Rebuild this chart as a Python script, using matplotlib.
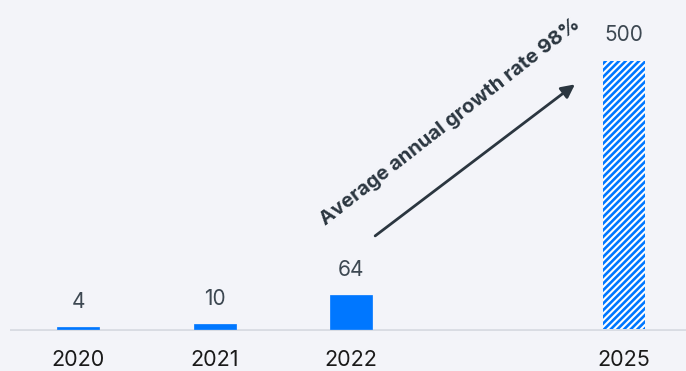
import matplotlib
matplotlib.use("Agg")
import matplotlib.pyplot as plt

years = ["2020", "2021", "2022", "2025"]
positions = [0, 1, 2, 4]
values = [4, 10, 64, 500]
hatched = [False, False, False, True]
annotation_text = "Average annual growth rate 98%"

BG = "#f3f4f9"
BLUE = "#0077ff"
DARK = "#2b3640"

plt.rcParams['font.family'] = ['Inter', 'DejaVu Sans']
plt.rcParams['hatch.linewidth'] = 1.9
plt.rcParams['hatch.color'] = BLUE

fig = plt.figure(figsize=(6.86, 3.71), dpi=100, facecolor=BG)
ax = fig.add_axes([10/686, 40/371, 676/686, 331/371])
ax.set_facecolor(BG)

for p, v, h in zip(positions, values, hatched):
    if h:
        ax.bar(p, v, width=0.31, color="white", edgecolor=BLUE, hatch="/////",
               linewidth=0, zorder=3)
    else:
        ax.bar(p, v, width=0.31, color=BLUE, edgecolor=BLUE, linewidth=0.5, zorder=3)
    ax.annotate(str(v), (p, v), xytext=(0, 11), textcoords="offset points",
                ha="center", va="bottom", fontsize=15, color="#3d4852")

ax.set_xlim(-0.5, 4.454)
ax.set_ylim(-3, 613)
ax.set_xticks(positions)
ax.set_xticklabels(years, fontsize=15.5, color="#1a1a1a")
ax.tick_params(axis="x", length=0, pad=14)
ax.set_yticks([])
for s in ["top", "right", "left", "bottom"]:
    ax.spines[s].set_visible(False)
ax.axhline(-1.5, color="#d9dce3", lw=2, zorder=1)

ax.annotate("", xy=(3.64, 456), xytext=(2.176, 174),
            arrowprops=dict(arrowstyle="-|>,head_length=0.8,head_width=0.4",
                            color=DARK, lw=2, shrinkA=0, shrinkB=0))
ax.text(2.725, 385, annotation_text, rotation=38, rotation_mode="anchor",
        ha="center", va="center", fontsize=14.5, fontweight="bold", color=DARK)

fig.savefig("out.png", dpi=100, facecolor=BG)
